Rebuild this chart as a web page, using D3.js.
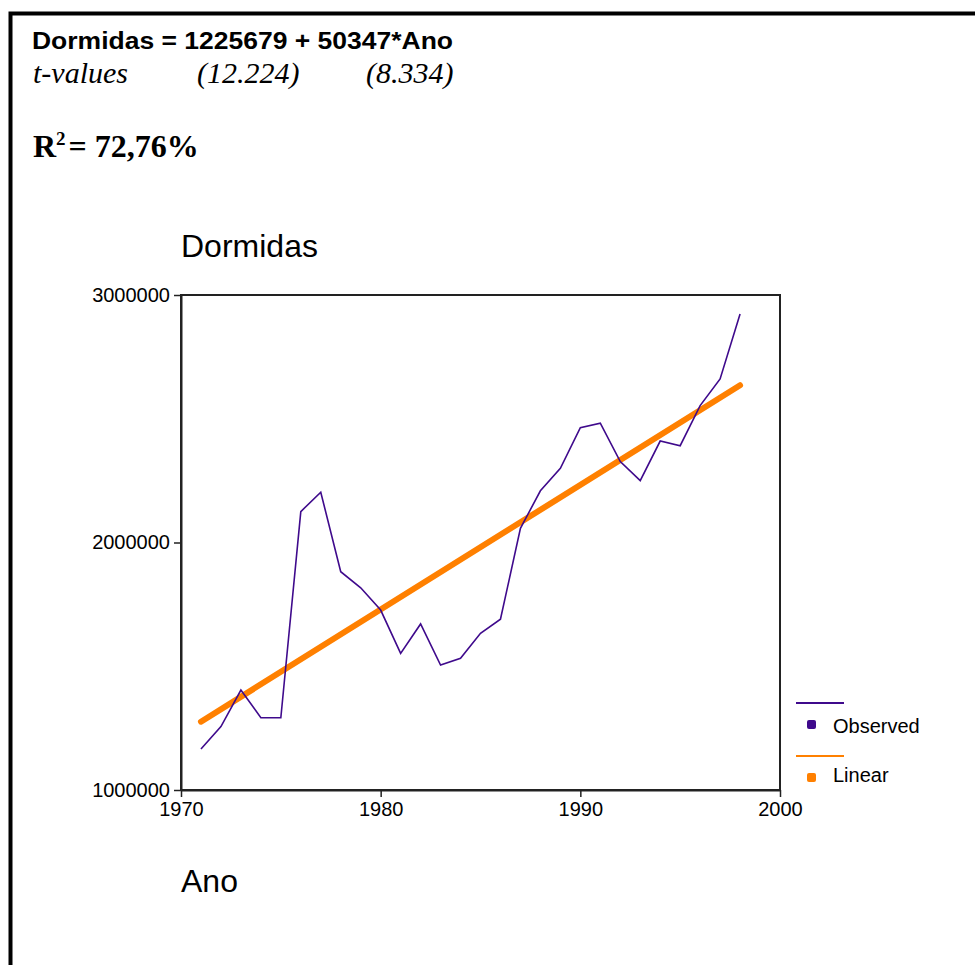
<!DOCTYPE html>
<html>
<head>
<meta charset="utf-8">
<script src="https://cdn.jsdelivr.net/npm/d3@7"></script>
<style>
  body { margin: 0; background: #fff; }
  svg { display: block; }
</style>
</head>
<body>
<svg id="main" width="975" height="965"></svg>
<script>
// observed series
const years = [1971, 1972, 1973, 1974, 1975, 1976, 1977, 1978, 1979, 1980,
  1981, 1982, 1983, 1984, 1985, 1986, 1987, 1988, 1989, 1990,
  1991, 1992, 1993, 1994, 1995, 1996, 1997, 1998];
const dormidas = [1166000, 1256000, 1404000, 1292000, 1292000, 2125000, 2203000, 1882000, 1817000, 1727000,
  1552000, 1671000, 1505000, 1532000, 1633000, 1690000, 2057000, 2209000, 2300000, 2464000,
  2482000, 2327000, 2250000, 2410000, 2391000, 2553000, 2661000, 2923000];
// fitted line end points
const linearYears = [1971, 1998];
const linearValues = [1276026, 2635395];

const xTicks = [1970, 1980, 1990, 2000];
const yTicks = [1000000, 2000000, 3000000];
const legendLabels = ['Observed', 'Linear'];

const purple = '#3f0a8c', orange = '#ff8000';

let svg = d3.select('#main');

// outer frame (only top and left edges are in view)
svg.append('path')
  .attr('d', 'M10.5,975 V13.5 H975')
  .attr('fill', 'none')
  .attr('stroke', '#000')
  .attr('stroke-width', 4);

// header text
svg.append('text')
  .attr('x', 32).attr('y', 49)
  .attr('textLength', 421)
  .attr('lengthAdjust', 'spacingAndGlyphs')
  .style('font', 'bold 23px "Liberation Sans", Arial, sans-serif')
  .text('Dormidas = 1225679 + 50347*Ano');

let tv = svg.append('g')
  .style('font', 'italic 30px "Liberation Serif", "Times New Roman", serif');
tv.append('text').attr('x', 33).attr('y', 83).text('t-values');
tv.append('text').attr('x', 197).attr('y', 83).text('(12.224)');
tv.append('text').attr('x', 366).attr('y', 83).text('(8.334)');

let r2 = svg.append('text')
  .attr('x', 33).attr('y', 157)
  .style('font', 'bold 32px "Liberation Serif", "Times New Roman", serif');
r2.append('tspan').text('R');
r2.append('tspan').attr('dy', -12).style('font-size', '19px').text('2');
r2.append('tspan').attr('dy', 12).attr('dx', 3).text('= 72,76%');

// chart
const pLeft = 181, pRight = 780, pTop = 295, pBottom = 790;

let x = d3.scaleLinear().domain([1970, 2000]).range([pLeft, pRight]);
let y = d3.scaleLinear().domain([1000000, 3000000]).range([pBottom, pTop]);

svg.append('text')
  .attr('x', pLeft).attr('y', 257)
  .style('font', '32px "Liberation Sans", Arial, sans-serif')
  .text('Dormidas');

svg.append('text')
  .attr('x', pLeft).attr('y', 892)
  .style('font', '32px "Liberation Sans", Arial, sans-serif')
  .text('Ano');

// plot box
svg.append('rect')
  .attr('x', pLeft).attr('y', pTop)
  .attr('width', pRight - pLeft).attr('height', pBottom - pTop)
  .attr('fill', 'none')
  .attr('stroke', '#222')
  .attr('stroke-width', 2);

let xAxis = svg.append('g')
  .attr('transform', `translate(0,${pBottom})`)
  .call(d3.axisBottom(x).tickValues(xTicks).tickFormat(d3.format('d')).tickSize(7).tickSizeOuter(0));

let yAxis = svg.append('g')
  .attr('transform', `translate(${pLeft},0)`)
  .call(d3.axisLeft(y).tickValues(yTicks).tickFormat(d3.format('d')).tickSize(7).tickSizeOuter(0));

[xAxis, yAxis].forEach(a => {
  a.select('.domain').attr('stroke', '#222').attr('stroke-width', 2);
  a.selectAll('.tick line').attr('stroke', '#222').attr('stroke-width', 1.5);
  a.selectAll('.tick text')
    .attr('fill', '#000')
    .style('font', '20px "Liberation Sans", Arial, sans-serif');
});
xAxis.selectAll('.tick text').attr('y', 11).attr('dy', '0.75em');
yAxis.selectAll('.tick text').attr('x', -11).attr('dy', '0.3em');

let line = d3.line().x(d => x(d[0])).y(d => y(d[1]));

svg.append('path')
  .datum(d3.zip(linearYears, linearValues))
  .attr('d', line)
  .attr('fill', 'none')
  .attr('stroke', orange)
  .attr('stroke-width', 6)
  .attr('stroke-linecap', 'round');

svg.append('path')
  .datum(d3.zip(years, dormidas))
  .attr('d', line)
  .attr('fill', 'none')
  .attr('stroke', purple)
  .attr('stroke-width', 1.6)
  .attr('stroke-linejoin', 'miter');

// legend
const legColors = [purple, orange];
const legRowY = [703, 756];
let leg = svg.selectAll('.leg').data(legendLabels)
  .join('g')
  .attr('class', 'leg')
  .attr('transform', (d, i) => `translate(796,${legRowY[i]})`);

leg.append('line')
  .attr('x1', 0).attr('x2', 48)
  .attr('stroke', (d, i) => legColors[i])
  .attr('stroke-width', 2);

leg.append('rect')
  .attr('x', 11).attr('y', 17)
  .attr('width', 9).attr('height', 9)
  .attr('rx', 2)
  .attr('fill', (d, i) => legColors[i]);

leg.append('text')
  .attr('x', 37).attr('y', (d, i) => i ? 26 : 30)
  .style('font', '20px "Liberation Sans", Arial, sans-serif')
  .text(d => d);
</script>
</body>
</html>
